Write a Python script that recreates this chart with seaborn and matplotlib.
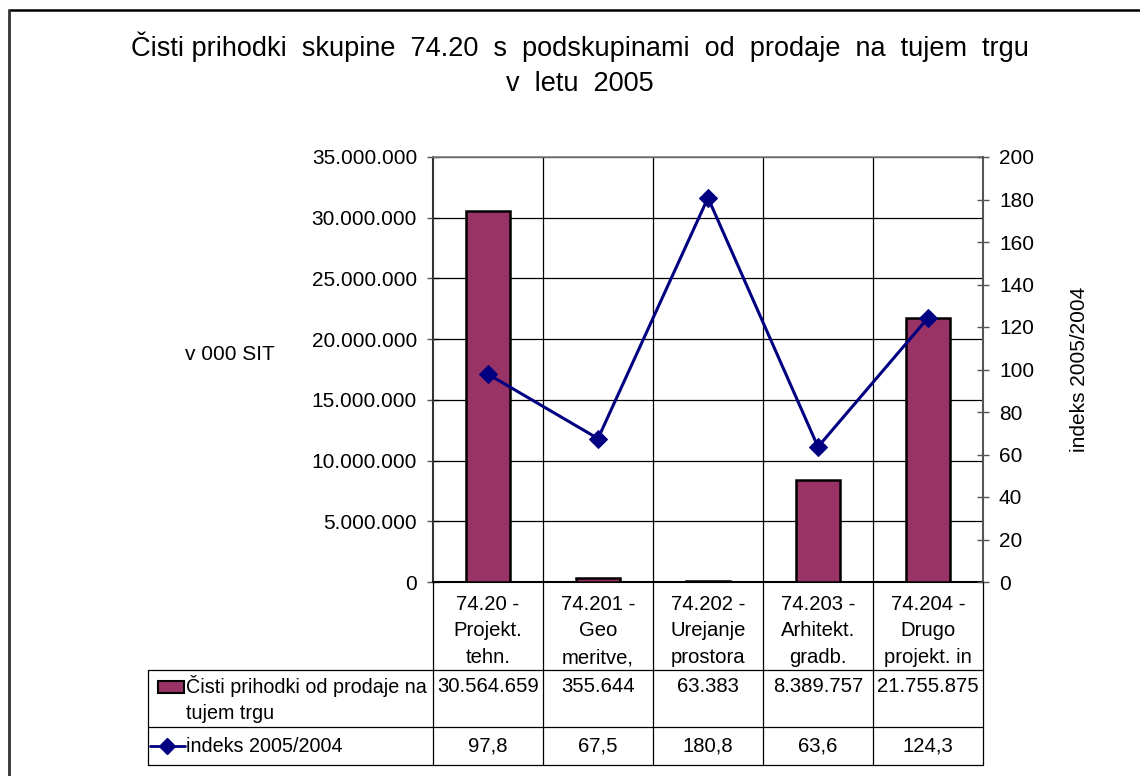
import matplotlib
matplotlib.use("Agg")
import matplotlib.pyplot as plt
import matplotlib.transforms as mtransforms
from matplotlib.patches import Rectangle
from matplotlib.lines import Line2D
import seaborn as sns
import numpy as np
import pandas as pd

# podatki
kategorije = ["74.20 -\nProjekt.\ntehn.", "74.201 -\nGeo\nmeritve,",
              "74.202 -\nUrejanje\nprostora", "74.203 -\nArhitekt.\ngradb.",
              "74.204 -\nDrugo\nprojekt. in"]
prihodki = [30564659, 355644, 63383, 8389757, 21755875]
indeks = [97.8, 67.5, 180.8, 63.6, 124.3]
prihodki_txt = ["30.564.659", "355.644", "63.383", "8.389.757", "21.755.875"]
indeks_txt = ["97,8", "67,5", "180,8", "63,6", "124,3"]

naslov = "Čisti prihodki  skupine  74.20  s  podskupinami  od  prodaje  na  tujem  trgu\nv  letu  2005"
serija1 = "Čisti prihodki od prodaje na\ntujem trgu"
serija2 = "indeks 2005/2004"

BAR_C = "#993366"
LINE_C = "#000080"
W, H = 1140, 776

sns.set_theme(style="white")
plt.rcParams['font.family'] = ['Liberation Sans', 'DejaVu Sans']
plt.rcParams.update({"text.color": "black", "axes.labelcolor": "black",
                     "xtick.color": "black", "ytick.color": "black"})
FS = 15
FS_T = 14.6

df = pd.DataFrame({"kat": np.arange(len(kategorije)), "prihodki": prihodki,
                   "indeks": indeks})

fig = plt.figure(figsize=(W / 100, H / 100), dpi=100)
ax = fig.add_axes([433 / W, 1 - 582 / H, 550 / W, 425 / H])

sns.barplot(data=df, x="kat", y="prihodki", color=BAR_C, width=0.4,
            edgecolor="black", linewidth=1.8, saturation=1, ax=ax, zorder=3)
ax.set_xlim(-0.5, len(kategorije) - 0.5)
ax.set_ylim(0, 35000000)
ax.set_yticks(np.arange(0, 35000001, 5000000))
ax.yaxis.set_major_formatter(plt.FuncFormatter(lambda v, p: f"{v:,.0f}".replace(",", ".")))
ax.set_xticks([])
ax.set_xlabel("")
ax.set_ylabel("")
for y in np.arange(5000000, 35000001, 5000000):
    ax.axhline(y, color="black", lw=0.9, zorder=1)
for x in np.arange(0.5, len(kategorije) - 1, 1):
    ax.axvline(x, color="black", lw=0.9, zorder=1)
ax.tick_params(axis="y", direction="inout", length=9, width=1, labelsize=FS, pad=7,
               color="#555555", labelcolor="black")
for s in ax.spines.values():
    s.set_color("#808080")
    s.set_linewidth(1.2)
ax.spines["left"].set_color("#333333")
ax.spines["left"].set_linewidth(1.5)
ax.spines["bottom"].set_color("black")
ax.spines["bottom"].set_linewidth(1.5)

ax2 = ax.twinx()
sns.lineplot(data=df, x="kat", y="indeks", color=LINE_C, lw=2.2, marker="D",
             markersize=9, markeredgecolor=LINE_C, ax=ax2, zorder=4)
ax2.set_ylim(0, 200)
ax2.set_yticks(np.arange(0, 201, 20))
ax2.set_xlim(-0.5, len(kategorije) - 0.5)
ax2.set_xticks([])
ax2.set_xlabel("")
ax2.set_ylabel("indeks 2005/2004", fontsize=FS, labelpad=26, color="black")
ax2.tick_params(axis="y", direction="inout", length=9, width=1, labelsize=FS, pad=7,
                color="#555555", labelcolor="black")
for s in ax2.spines.values():
    s.set_visible(False)
ax2.spines["right"].set_visible(True)
ax2.spines["right"].set_color("#555555")
ax2.spines["right"].set_linewidth(1.5)

fig.text(185 / W, 1 - 355 / H, "v 000 SIT", fontsize=FS, ha="left", va="center")
fig.text(580 / W, 1 - 64 / H, naslov, fontsize=19.5, ha="center", va="center", linespacing=1.45)

# tabela s podatki
tr = mtransforms.blended_transform_factory(ax.transData, fig.transFigure)
def fy(p):
    return 1 - p / H

n = len(kategorije)
lkw = dict(color="black", lw=0.9, transform=tr, clip_on=False)
for x in np.arange(-0.5, n, 1):
    fig.add_artist(Line2D([x, x], [fy(582), fy(765)], **lkw))
xl = -0.5 - (433 - 148) / 110
for yy in (670, 727, 765):
    fig.add_artist(Line2D([xl, n - 0.5], [fy(yy), fy(yy)], **lkw))
fig.add_artist(Line2D([xl, xl], [fy(670), fy(765)], **lkw))

for i, k in enumerate(kategorije):
    fig.text(i, fy(631), k, transform=tr, ha="center", va="center",
             fontsize=FS_T, linespacing=1.5)
    fig.text(i, fy(686), prihodki_txt[i], transform=tr, ha="center", va="center", fontsize=FS_T)
    fig.text(i, fy(746), indeks_txt[i], transform=tr, ha="center", va="center", fontsize=FS_T)

fig.add_artist(Rectangle((158 / W, fy(693)), 26 / W, 12 / H, facecolor=BAR_C,
                         edgecolor="black", lw=1.5, transform=fig.transFigure))
fig.text(186 / W, fy(699), serija1, fontsize=14.2, ha="left", va="center", linespacing=1.45)
fig.add_artist(Line2D([150 / W, 185 / W], [fy(746), fy(746)], color=LINE_C, lw=2,
                      transform=fig.transFigure))
fig.add_artist(Line2D([167 / W], [fy(746)], color=LINE_C, marker="D", markersize=8,
                      transform=fig.transFigure))
fig.text(186 / W, fy(746), serija2, fontsize=14.2, ha="left", va="center")

# okvir
fig.add_artist(Line2D([9 / W, 1], [fy(10), fy(10)], color="black", lw=1.8, transform=fig.transFigure))
fig.add_artist(Line2D([9 / W, 9 / W], [fy(10), 0], color="#333333", lw=2, transform=fig.transFigure))

fig.savefig("out.png", dpi=100, facecolor="white")
